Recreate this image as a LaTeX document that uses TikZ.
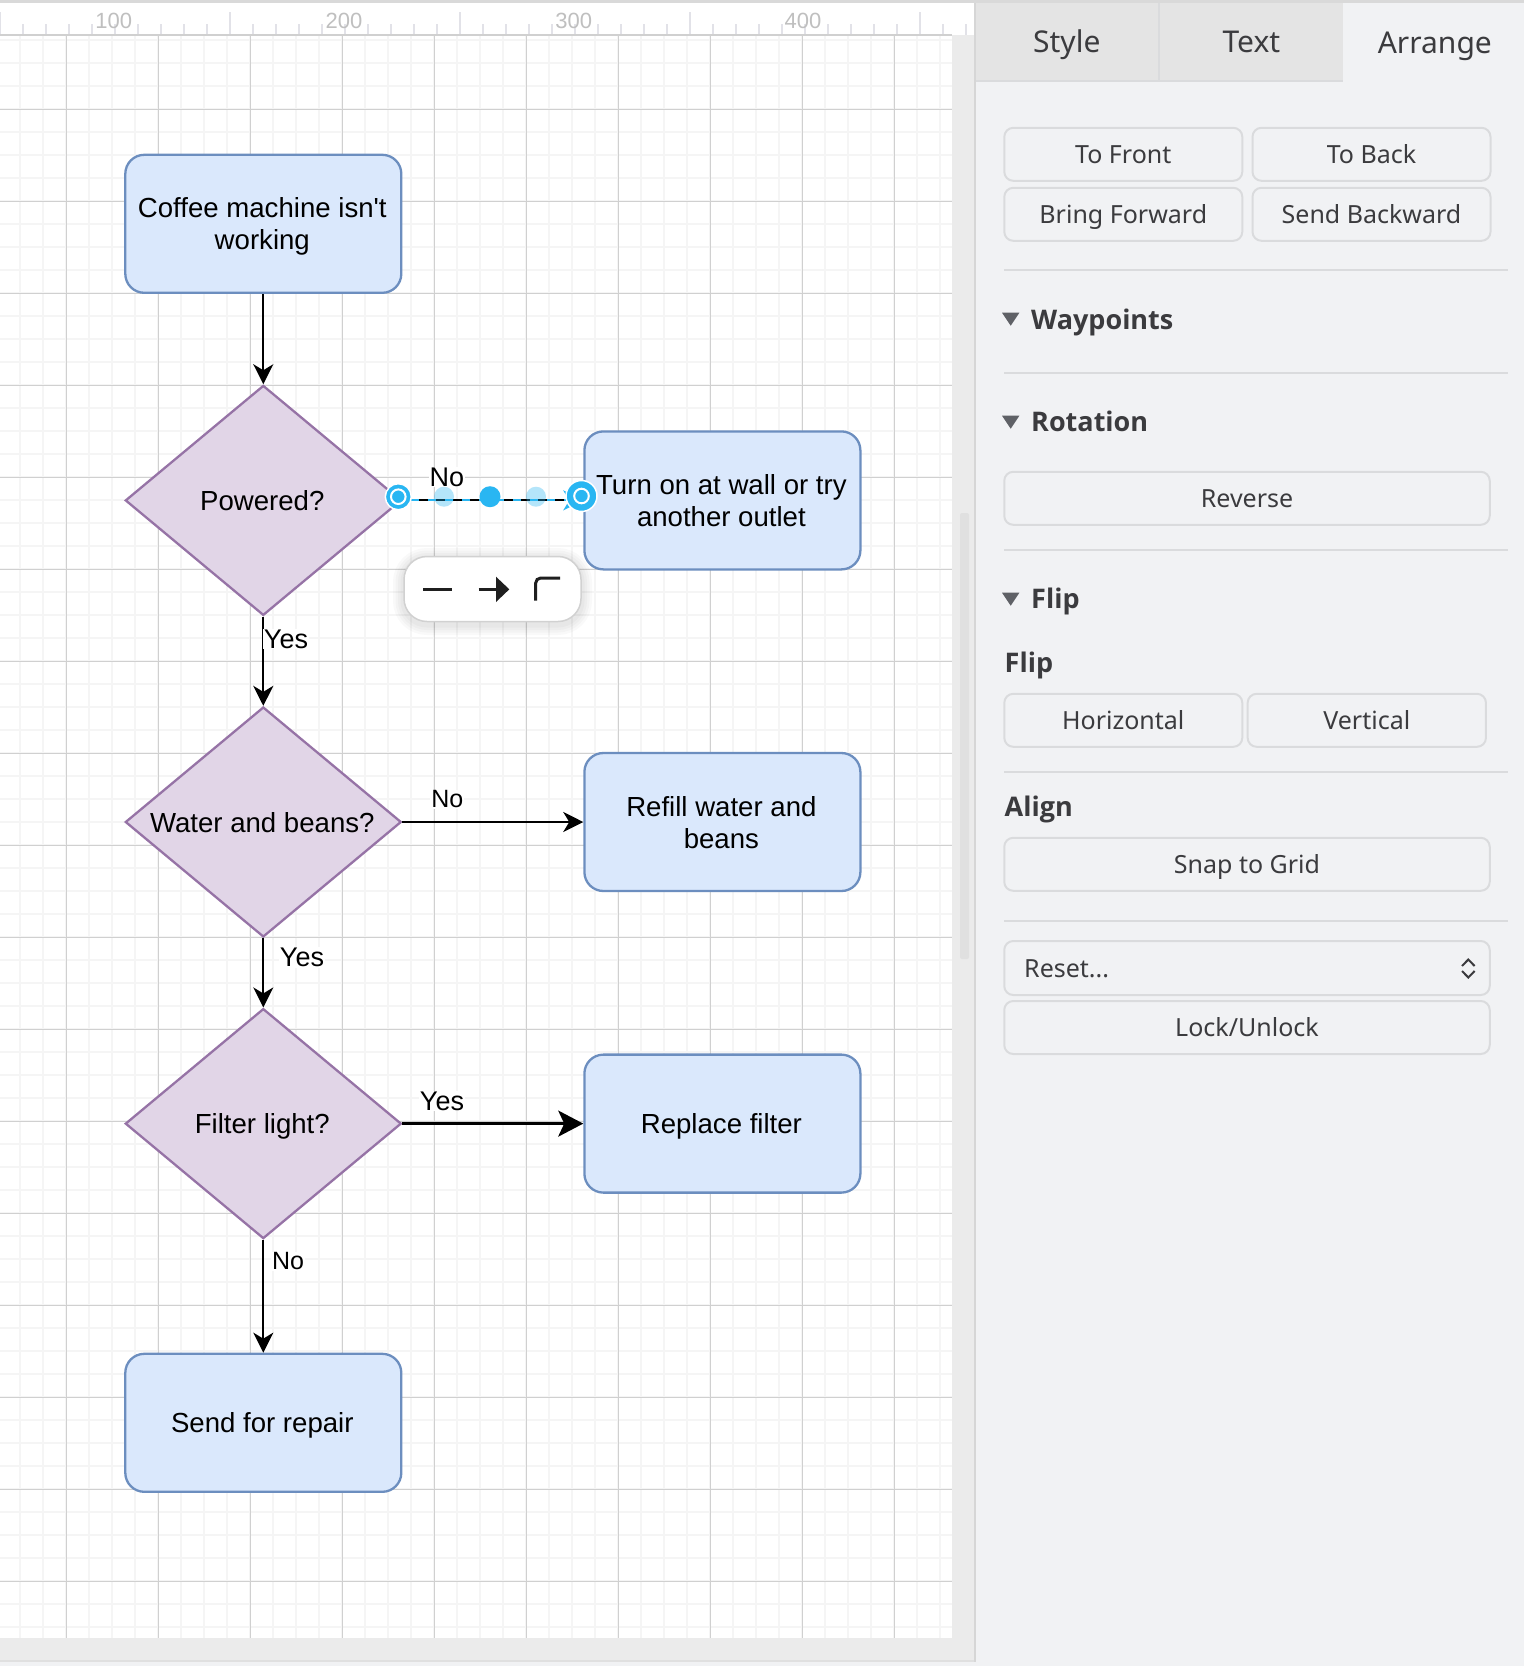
\documentclass[tikz,border=0pt]{standalone}
\usepackage{fontspec}
\setmainfont[Ligatures=TeXOff]{Liberation Sans}
\newfontfamily\uifont{Noto Sans}
\newfontfamily\uibold{Open Sans}
\usetikzlibrary{arrows.meta,shapes.geometric}
\definecolor{boxfill}{HTML}{DAE8FC}
\definecolor{boxline}{HTML}{6C8EBF}
\definecolor{diamfill}{HTML}{E1D5E7}
\definecolor{diamline}{HTML}{9673A6}
\definecolor{gridmajor}{HTML}{D0D0D0}
\definecolor{gridminor}{HTML}{F5F5F5}
\definecolor{rulertick}{HTML}{E2E2E8}
\definecolor{stripgray}{HTML}{EBEBEB}
\definecolor{panelbg}{HTML}{F1F2F4}
\definecolor{tabgray}{HTML}{E4E4E4}
\definecolor{btnline}{HTML}{DADBDD}
\definecolor{uitext}{HTML}{3B3B3E}
\definecolor{triangray}{HTML}{5F6166}
\definecolor{selblue}{HTML}{29B6F2}
\newcommand{\flowstrut}{\rule[-6pt]{0pt}{32pt}\kern2pt}
\begin{document}
\begin{tikzpicture}[
    x=1pt, y=-1pt,
    flowbox/.style={rectangle, rounded corners=19pt, draw=boxline, fill=boxfill, line width=2.3pt, minimum width=276pt, minimum height=138pt, align=center, inner sep=0pt, font=\fontsize{27.6}{32}\selectfont},
    decision/.style={diamond, aspect=1.2, draw=diamline, fill=diamfill, line width=2.3pt, minimum width=276pt, minimum height=230pt, inner sep=0pt, text height=20pt, text depth=0pt, execute at end node={\kern2pt}, font=\fontsize{27.6}{32}\selectfont},
    arrow/.style={-{Stealth[length=20pt, width=20pt, inset=6pt]}, line width=2.3pt, black},
    bigarrow/.style={-{Stealth[length=25pt, width=26pt, inset=6pt]}, line width=3pt, black},
    edgelabel/.style={fill=white, inner sep=1pt, font=\fontsize{#1}{#1}\selectfont},
    edgelabel/.default=27,
    rulerlabel/.style={text=black!25, font=\fontsize{22}{22}\selectfont, inner sep=0pt},
    tabname/.style={text=uitext, font=\uifont\fontsize{30}{30}\selectfont, inner sep=0pt, text height=21.4pt, text depth=0pt},
    btn/.style={rectangle, rounded corners=9pt, draw=btnline, line width=2pt, minimum height=53pt, text=uitext, font=\uifont\fontsize{25}{25}\selectfont, inner sep=0pt, text height=18pt, text depth=0pt},
    heading/.style={text=uitext, anchor=west, inner sep=0pt, text height=19.3pt, text depth=0pt, font=\uibold\bfseries\fontsize{27}{27}\selectfont},
    sepline/.style={btnline, line width=2pt},
    handle/.style={circle, fill=selblue, draw=white, line width=1.5pt, inner sep=0pt},
    toolbar/.style={rectangle, rounded corners=23pt, fill=white, draw=black!18, line width=1.5pt, minimum width=177pt, minimum height=65pt}
  ]
  \useasboundingbox (0,0) rectangle (1524,1666);
  \fill[white] (0,0) rectangle (1524,1666);

  % Canvas grid
  \begin{scope}
    \clip (0,35) rectangle (952,1637.7);
    \foreach \k in {-2,...,38} {
        \draw[gridminor, line width=2pt] (66.3+23*\k,35) -- (66.3+23*\k,1638);
      }
    \foreach \k in {-3,...,66} {
        \draw[gridminor, line width=2pt] (0,109.3+23*\k) -- (952,109.3+23*\k);
      }
    \foreach \k in {0,...,9} {
        \draw[gridmajor, line width=1.1pt] (66.3+92*\k,35) -- (66.3+92*\k,1638);
      }
    \foreach \k in {0,...,17} {
        \draw[gridmajor, line width=1.1pt] (0,109.3+92*\k) -- (952,109.3+92*\k);
      }
  \end{scope}

  % Strips round the canvas
  \fill[stripgray] (952,35) rectangle (975,1660);
  \fill[stripgray] (0,1637.7) rectangle (975,1660);
  \fill[black!12] (0,1660) rectangle (975,1662);
  \fill[panelbg] (0,1662) rectangle (1524,1666);
  \fill[black!12, rounded corners=2pt] (960,513) rectangle (969,959);

  % Ruler
  \fill[white] (0,3) rectangle (977,35);
  \foreach \k in {0,...,42} {
      \draw[rulertick, line width=1.5pt] (23*\k,24) -- (23*\k,35);
    }
  \foreach \x in {0,230,460,690,920} {
      \draw[rulertick, line width=1.5pt] (\x,12) -- (\x,35);
    }
  \draw[gridmajor, line width=1.2pt] (0,35) -- (952,35);
  \foreach \x/\t in {113.7/100, 344/200, 573.7/300, 803/400} {
      \node[rulerlabel] at (\x,21) {\t};
    }

  % Side panel
  \fill[panelbg] (975,3) rectangle (1524,1662);
  \fill[tabgray] (975,3) rectangle (1343,80);
  \draw[btnline, line width=2pt] (1158.6,3) -- (1158.6,80);
  \draw[btnline, line width=2pt] (975,80.5) -- (1343,80.5);
  \draw[black!16, line width=2pt] (975,3) -- (975,1662);
  \fill[black!15] (0,0) rectangle (1524,3);

  \node[tabname] (tabstyle) at (1066.8,41.5) {Style};
  \node[tabname] (tabtext) at (1251.4,41.5) {Text};
  \node[tabname] (tabarrange) at (1434.8,42.5) {Arrange};

  \node[btn, minimum width=238pt] (tofront) at (1123.3,154.3) {To Front};
  \node[btn, minimum width=238pt] (toback) at (1371.5,154.3) {To Back};
  \node[btn, minimum width=238pt] (forward) at (1123.3,214.3) {Bring Forward};
  \node[btn, minimum width=238pt] (backward) at (1371.5,214.3) {Send Backward};
  \node[btn, minimum width=485.5pt] (reverse) at (1247,498.3) {Reverse};
  \node[btn, minimum width=238pt] (horizontal) at (1123.3,720.3) {Horizontal};
  \node[btn, minimum width=238.3pt] (vertical) at (1366.8,720.3) {Vertical};
  \node[btn, minimum width=485.5pt] (snap) at (1247,864.3) {Snap to Grid};
  \node[btn, minimum width=485.5pt, minimum height=54pt] (reset) at (1247,968) {};
  \node[text=uitext, anchor=west, inner sep=0pt, text height=18pt, text depth=0pt, font=\uifont\fontsize{25}{25}\selectfont] (resettext) at (1024,968) {Reset...};
  \node[btn, minimum width=485.5pt] (lock) at (1247,1027.5) {Lock/Unlock};

  \foreach \y in {270,372.7,550,771.7,920.7} {
      \draw[sepline] (1004,\y) -- (1508,\y);
    }
  \foreach \y in {312.7,415.7,592.7} {
      \fill[triangray] (1002,\y) -- (1019.4,\y) -- (1010.7,\y+13) -- cycle;
    }

  \node[heading] (waypoints) at (1031,320) {Waypoints};
  \node[heading] (rotation) at (1031,422) {Rotation};
  \node[heading] (flipopen) at (1031,599) {Flip};
  \node[heading] (flip) at (1004.5,663) {Flip};
  \node[heading] (align) at (1004.5,807.3) {Align};

  % Select chevrons
  \draw[uitext, line width=2pt] (1462,966) -- (1468.3,959.5) -- (1474.6,966);
  \draw[uitext, line width=2pt] (1462,971) -- (1468.3,977.5) -- (1474.6,971);

  % Flowchart
  \node[flowbox] (broken) at (263.3,223.8) {Coffee machine isn't\flowstrut\\working\flowstrut};
  \node[decision] (powered) at (263.3,500.4) {Powered?};
  \node[flowbox] (outlet) at (722.4,500.4) {Turn on at wall or try\flowstrut\\another outlet\flowstrut};
  \node[decision] (water) at (263.3,822) {Water and beans?};
  \node[flowbox] (refill) at (722.4,822) {Refill water and\flowstrut\\beans\flowstrut};
  \node[decision] (light) at (263.3,1123.6) {Filter light?};
  \node[flowbox] (filter) at (722.4,1123.6) {Replace filter\flowstrut};
  \node[flowbox] (repair) at (263.3,1422.8) {Send for repair\flowstrut};

  \draw[arrow] (broken) -- (powered);
  \draw[arrow] (powered) -- (water);
  \draw[arrow] (water) -- (refill);
  \draw[arrow] (water) -- (light);
  \draw[bigarrow] (light) -- (filter);
  \draw[arrow] (light) -- (repair);

  % Selected connector
  \draw[arrow, selblue, line width=2pt] (powered) -- (outlet);
  \draw[black, line width=2pt, dash pattern=on 9pt off 8pt] (powered) -- (outlet);

  \node[edgelabel] (labelone) at (447,477) {No};
  \node[edgelabel] (labeltwo) at (286,639) {Yes};
  \node[edgelabel=25] (labelthree) at (447.4,799.5) {No};
  \node[edgelabel] (labelfour) at (302,957.6) {Yes};
  \node[edgelabel] (labelfive) at (442,1101) {Yes};
  \node[edgelabel=25] (labelsix) at (288,1261.5) {No};

  \node[handle, minimum size=26pt] (starthandle) at (398.3,496.7) {};
  \node[handle, minimum size=31pt] (endhandle) at (581.5,496) {};
  \draw[white, line width=2pt] (starthandle) circle (7.3pt);
  \draw[white, line width=2pt] (endhandle) circle (7.3pt);
  \node[circle, fill=selblue, opacity=.35, minimum size=20pt, inner sep=0pt] (waypointa) at (444,496.7) {};
  \node[circle, fill=selblue, minimum size=21pt, inner sep=0pt] (waypointb) at (490,496.7) {};
  \node[circle, fill=selblue, opacity=.35, minimum size=20pt, inner sep=0pt] (waypointc) at (536,496.7) {};

  % Connector toolbar
  \foreach \w in {22,17,12,7} {
      \draw[black, opacity=.025, line width=\w pt, rounded corners=23pt] (404,559) rectangle (581,624);
    }
  \node[toolbar] (linebar) at (492.5,589) {};
  \draw[black!88, line width=3pt] (423.3,589.3) -- (452,589.3);
  \draw[black!88, line width=3pt] (478.7,589.3) -- (497,589.3);
  \fill[black!88] (496,576.7) -- (509.3,589.3) -- (496,602) -- cycle;
  \draw[black!88, line width=3pt, rounded corners=5pt] (535.7,600.7) -- (535.7,578) -- (560,578);

\end{tikzpicture}
\end{document}
